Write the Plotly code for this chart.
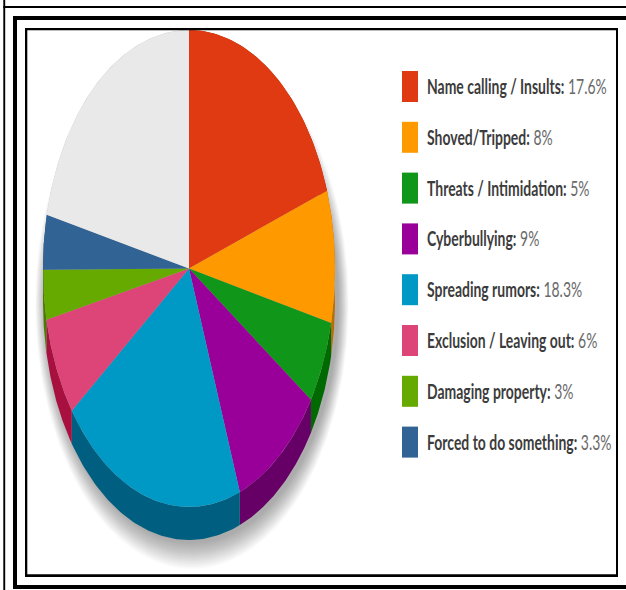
import numpy as np
import plotly.graph_objects as go

# Survey shares, clockwise from twelve o'clock; the last slice has no legend entry
categories = ["Name calling / Insults", "Shoved/Tripped", "Threats / Intimidation",
              "Cyberbullying", "Spreading rumors", "Exclusion / Leaving out",
              "Damaging property", "Forced to do something"]
shares = [17.6, 8, 5, 9, 18.3, 6, 3, 3.3]
share_labels = ["17.6%", "8%", "5%", "9%", "18.3%", "6%", "3%", "3.3%"]
unlisted_share = 19.1

top_colors = ["#E03A12", "#FF9900", "#109618", "#990099", "#0099C6", "#DD4477", "#66AA00", "#316395"]
wall_colors = ["#9C2A0C", "#B86E00", "#006A00", "#660066", "#005F80", "#A81040", "#4A7A00", "#1F4060"]
unlisted_color = "#E9E9E9"
unlisted_wall = "#BDBDBD"

W, H = 626, 590
CX, CY, RX, RY = 189, 268.5, 146, 238.5
DEPTH = 33
TEXT_SQUEEZE = 0.665

fig = go.Figure()


def ellipse_point(turn, dy=0.0):
    a = 2 * np.pi * turn
    return CX + RX * np.sin(a), CY + dy - RY * np.cos(a)


# Soft drop shadow built from many faint stacked ellipses
t = np.linspace(0, 1, 240)
for step in range(18, 0, -1):
    grow = step * 1.5
    xs = CX + 3 + (RX + grow * 0.4) * np.sin(2 * np.pi * t)
    ys = CY + DEPTH + 2 - (RY + grow) * np.cos(2 * np.pi * t)
    fig.add_trace(go.Scatter(x=xs, y=ys, mode="lines", fill="toself", line=dict(width=0),
                             fillcolor="rgba(0,0,0,0.018)", hoverinfo="skip", showlegend=False))

all_values = shares + [unlisted_share]
tops = top_colors + [unlisted_color]
walls = wall_colors + [unlisted_wall]
edges = np.cumsum([0] + all_values) / sum(all_values)

# Extruded side walls go underneath the top faces
for i in range(len(all_values)):
    t = np.linspace(edges[i], edges[i + 1], 80)
    x1, y1 = ellipse_point(t)
    x2, y2 = ellipse_point(t[::-1], DEPTH)
    fig.add_trace(go.Scatter(x=np.r_[x1, x2], y=np.r_[y1, y2], mode="lines", fill="toself",
                             line=dict(width=0), fillcolor=walls[i], hoverinfo="skip", showlegend=False))

for i in range(len(all_values)):
    t = np.linspace(edges[i], edges[i + 1], 80)
    x1, y1 = ellipse_point(t)
    fig.add_trace(go.Scatter(x=np.r_[CX, x1, CX], y=np.r_[CY, y1, CY], mode="lines", fill="toself",
                             line=dict(width=0), fillcolor=tops[i], hoverinfo="skip", showlegend=False))

# Hand-placed key: tall swatches with a dark name and a lighter value
shapes = []
annotations = []
for i, (name, value, color) in enumerate(zip(categories, share_labels, top_colors)):
    yc = 86.5 + 50.8 * i
    shapes.append(dict(type="rect", x0=402, x1=418, y0=yc - 15.5, y1=yc + 15.5,
                       fillcolor=color, line_width=0, layer="above"))
    annotations.append(dict(x=425, y=yc - 1, xanchor="left", yanchor="middle", showarrow=False,
                            text=f"<span style='color:#3c3c3c'><b>{name}:</b></span> "
                                 f"<span style='color:#6a6a6a'>{value}</span>",
                            font=dict(family="Lato", size=21)))

# Nested black frames around the chart
frame_bars = [
    (3.3, 0, 5.2, 590), (3.3, 6, 626, 8),
    (13, 16, 17, 589), (13, 16, 626, 20), (13, 585, 626, 589),
    (25, 28, 27.3, 577), (25, 28, 618, 30.3), (616, 28, 618, 577), (25, 574.3, 618, 577),
]
for x0, y0, x1, y1 in frame_bars:
    shapes.append(dict(type="rect", x0=x0, x1=x1, y0=y0, y1=y1, fillcolor="black",
                       line_width=0, layer="above"))

fig.update_layout(
    width=W, height=H, margin=dict(l=0, r=0, t=0, b=0),
    paper_bgcolor="white", plot_bgcolor="white", showlegend=False,
    xaxis=dict(range=[0, W], visible=False, fixedrange=True),
    yaxis=dict(range=[H, 0], visible=False, fixedrange=True),
    shapes=shapes, annotations=annotations,
)

# The key's lettering is tall and narrow, so squeeze it horizontally about its left edge
squeeze_js = """
document.querySelectorAll('.annotation-text').forEach(function (el) {
  var left = el.getBBox().x;
  el.setAttribute('transform',
    'translate(' + left + ',0) scale(%s,1) translate(' + (-left) + ',0)');
});
""" % TEXT_SQUEEZE

fig.write_html("out.html", config=dict(displayModeBar=False), post_script=squeeze_js)
